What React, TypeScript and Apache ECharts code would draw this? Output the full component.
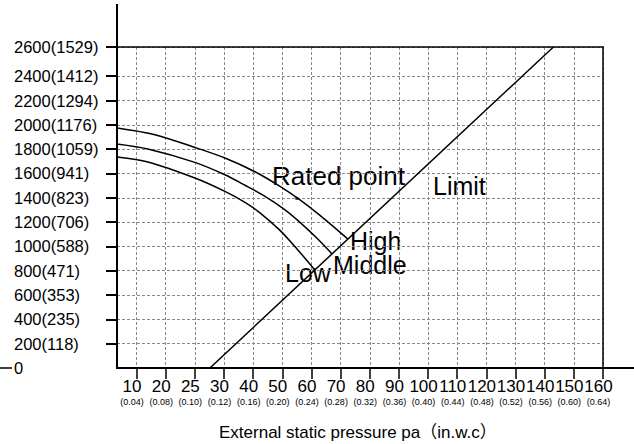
import React, { useEffect, useRef } from 'react';
import * as echarts from 'echarts';

// X axis: equally spaced tick positions with their pa / in.w.c labels
const xTickPositions = [1, 2, 3, 4, 5, 6, 7, 8, 9, 10, 11, 12, 13, 14, 15, 16, 17];
const xTickPa = ['10', '20', '25', '30', '40', '50', '60', '70', '80', '90', '100', '110', '120', '130', '140', '150', '160'];
const xTickInwc = ['(0.04)', '(0.08)', '(0.10)', '(0.12)', '(0.16)', '(0.20)', '(0.24)', '(0.28)', '(0.32)', '(0.36)', '(0.40)', '(0.44)', '(0.48)', '(0.52)', '(0.56)', '(0.60)', '(0.64)'];

// Y axis tick values and labels (top label sits on the chart border)
const yTickValues = [0, 200, 400, 600, 800, 1000, 1200, 1400, 1600, 1800, 2000, 2200, 2400, 2640];
const yTickLabels = ['0', '200(118)', '400(235)', '600(353)', '800(471)', '1000(588)', '1200(706)', '1400(823)', '1600(941)', '1800(1059)', '2000(1176)', '2200(1294)', '2400(1412)', '2600(1529)'];

const X_MIN = 0.33;
const X_MAX = 17;
const Y_MIN = 0;
const Y_MAX = 2640;

// Fan curves [x position, airflow]
const highCurve: number[][] = [
  [0.33, 1974], [1.628, 1919], [3.002, 1814], [4.032, 1727], [5.062, 1614],
  [5.921, 1494], [6.607, 1383], [7.294, 1255], [8.256, 1059],
];
const middleCurve: number[][] = [
  [0.33, 1842], [1.388, 1801], [3.002, 1691], [4.032, 1589], [4.719, 1503],
  [5.406, 1412], [6.093, 1301], [6.607, 1198], [7.191, 1067], [7.706, 938],
];
const lowCurve: number[][] = [
  [0.33, 1735], [1.388, 1694], [3.002, 1562], [4.032, 1452], [4.719, 1362],
  [5.234, 1276], [5.921, 1132], [6.504, 979], [7.12, 805],
];
const limitLine: number[][] = [[3.517, 0], [15.3, 2640]];
const ratedPoint: number[][] = [[6.5, 1395]];

const FONT = '"Liberation Sans", Arial, "Noto Sans CJK SC", sans-serif';

export default function App() {
  const ref = useRef<HTMLDivElement>(null);

  useEffect(() => {
    if (!ref.current) return;
    const chart = echarts.init(ref.current, undefined, { renderer: 'svg' });

    const curveStyle = { color: '#000', width: 1.5 };

    const option: any = {
      animation: false,
      grid: { left: 117, right: 31, top: 47, bottom: 76, containLabel: false },
      xAxis: [
        {
          type: 'value',
          min: X_MIN,
          max: X_MAX,
          position: 'bottom',
          axisLine: { show: true, onZero: false, lineStyle: { color: '#000', width: 2 } },
          axisTick: {
            show: true,
            customValues: xTickPositions,
            length: 11,
            inside: false,
            lineStyle: { color: '#000', width: 1.5 },
          },
          axisLabel: {
            customValues: xTickPositions,
            margin: 8,
            padding: [0, 9, 0, 0],
            formatter: (val: number) => {
              const i = xTickPositions.indexOf(Math.round(val));
              return `{a|${xTickPa[i]}}\n{b|${xTickInwc[i]}}`;
            },
            rich: {
              a: { fontSize: 17, lineHeight: 20, fontFamily: FONT, color: '#000' },
              b: { fontSize: 9, lineHeight: 12, fontFamily: FONT, color: '#000' },
            },
          },
          splitLine: { show: true, lineStyle: { color: '#888', width: 1, type: [3, 2] } },
        },
        {
          type: 'value',
          min: X_MIN,
          max: X_MAX,
          position: 'top',
          z: 5,
          axisLine: { show: true, onZero: false, lineStyle: { color: '#000', width: 1.5 } },
          axisTick: { show: false },
          axisLabel: { show: false },
          splitLine: { show: false },
        },
      ],
      yAxis: [
        {
          type: 'value',
          min: Y_MIN,
          max: Y_MAX,
          position: 'left',
          axisLine: { show: true, onZero: false, lineStyle: { color: '#000', width: 2 } },
          axisTick: {
            show: true,
            customValues: yTickValues.slice(1),
            length: 11,
            lineStyle: { color: '#000', width: 2 },
          },
          axisLabel: {
            customValues: yTickValues,
            align: 'left',
            margin: 103,
            padding: [0, 0, 10, 0],
            fontSize: 16.5,
            fontFamily: FONT,
            color: '#000',
            formatter: (val: number) => yTickLabels[yTickValues.indexOf(val)],
          },
          splitLine: { show: true, lineStyle: { color: '#888', width: 1, type: [3, 2] } },
        },
        {
          type: 'value',
          min: Y_MIN,
          max: Y_MAX,
          position: 'right',
          z: 5,
          axisLine: { show: true, onZero: false, lineStyle: { color: '#000', width: 1.5 } },
          axisTick: { show: false },
          axisLabel: { show: false },
          splitLine: { show: false },
        },
      ],
      series: [
        { name: 'High', type: 'line', data: highCurve, smooth: 0.3, showSymbol: false, lineStyle: curveStyle, z: 3 },
        { name: 'Middle', type: 'line', data: middleCurve, smooth: 0.3, showSymbol: false, lineStyle: curveStyle, z: 3 },
        { name: 'Low', type: 'line', data: lowCurve, smooth: 0.3, showSymbol: false, lineStyle: curveStyle, z: 3 },
        { name: 'Limit', type: 'line', data: limitLine, showSymbol: false, lineStyle: curveStyle, z: 3 },
        { name: 'Rated point', type: 'scatter', data: ratedPoint, symbol: 'rect', symbolSize: 3, itemStyle: { color: '#000' }, z: 4 },
      ],
      graphic: [
        { type: 'line', shape: { x1: 117, y1: 4, x2: 117, y2: 47 }, style: { stroke: '#000', lineWidth: 2 } },
        { type: 'line', shape: { x1: 603, y1: 368, x2: 634, y2: 368 }, style: { stroke: '#000', lineWidth: 2 } },
        { type: 'line', shape: { x1: 0, y1: 368, x2: 12, y2: 368 }, style: { stroke: '#000', lineWidth: 1.5 } },
        { type: 'text', x: 272, y: 176, style: { text: 'Rated point', fontSize: 26, fontFamily: FONT, fill: '#000', verticalAlign: 'middle' } },
        { type: 'text', x: 433, y: 186, style: { text: 'Limit', fontSize: 25, fontFamily: FONT, fill: '#000', verticalAlign: 'middle' } },
        { type: 'text', x: 350, y: 241, style: { text: 'High', fontSize: 25, fontFamily: FONT, fill: '#000', verticalAlign: 'middle' } },
        { type: 'text', x: 333, y: 265, style: { text: 'Middle', fontSize: 25, fontFamily: FONT, fill: '#000', verticalAlign: 'middle' } },
        { type: 'text', x: 285, y: 273, style: { text: 'Low', fontSize: 25, fontFamily: FONT, fill: '#000', verticalAlign: 'middle' } },
        { type: 'text', x: 219, y: 432, style: { text: 'External static pressure pa（in.w.c）', fontSize: 17, fontFamily: FONT, fill: '#000', verticalAlign: 'middle' } },
      ],
    };

    chart.setOption(option);
    return () => chart.dispose();
  }, []);

  return (
    <div
      ref={ref}
      style={{ position: 'absolute', left: 0, top: 0, width: 634, height: 444, background: '#fff' }}
    />
  );
}
